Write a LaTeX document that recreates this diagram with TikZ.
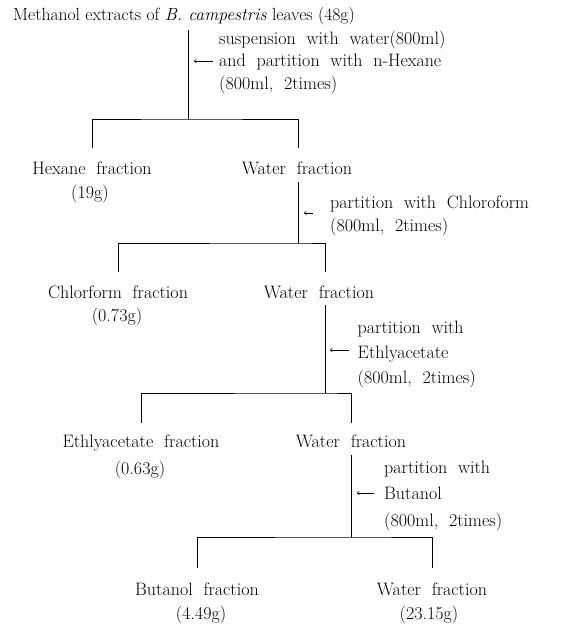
\documentclass[tikz,border=0pt]{standalone}
\usetikzlibrary{positioning, arrows.meta}

\newcommand{\widesp}{\spaceskip=0.6em plus 0.1em minus 0.1em}
\tikzset{
  lbl/.style={inner sep=0pt, font=\fontsize{18}{20}\selectfont\widesp},
  frac/.style={lbl, anchor=base},
  note/.style={inner sep=0pt, anchor=north west, align=left, font=\fontsize{18}{#1}\selectfont\widesp},
  larr/.style={line width=0.5pt, -{To[length=2.5pt, width=4pt]}},
  tree/.style={line width=0.7pt},
}

\begin{document}
\begin{tikzpicture}[x=1pt, y=-1pt]
    \useasboundingbox (0,0) rectangle (569,631);

    % Step 1: methanol extract, hexane partition
    \node[inner sep=0pt, anchor=base west, font=\fontsize{17.6}{20}\selectfont] (meoh) at (13,21) {Methanol extracts of \textit{B.\ campestris} leaves (48g)};
    \coordinate (j1) at (188,119);
    \node[note=22.5pt] (n1) at (219,30.5) {suspension with water(800ml)\\and partition with n-Hexane\\(800ml, 2times)};
    \coordinate (a1) at (213,61); \coordinate (b1) at (194,61);
    \node[frac] (hex) at (92,175) {Hexane fraction};
    \node[frac] (hexw) at (90,198) {(19g)};
    \node[frac] (wat1) at (297,175) {Water fraction};

    % Step 2: chloroform partition
    \coordinate (j2) at (298.5,243);
    \node[note=23pt] (n2) at (330,195.5) {partition with Chloroform\\(800ml, 2times)};
    \coordinate (a2) at (313,213); \coordinate (b2) at (304,213);
    \node[frac] (chl) at (118,298) {Chlorform fraction};
    \node[frac] (chlw) at (117,321) {(0.73g)};
    \node[frac] (wat2) at (319,298) {Water fraction};

    % Step 3: ethylacetate partition
    \coordinate (j3) at (325,393);
    \node[note=25pt] (n3) at (357.5,320.5) {partition with\\Ethlyacetate\\(800ml, 2times)};
    \coordinate (a3) at (349,350); \coordinate (b3) at (330,350);
    \node[frac] (eth) at (141,447) {Ethlyacetate fraction};
    \node[frac] (ethw) at (140,474) {(0.63g)};
    \node[frac] (wat3) at (351,447) {Water fraction};

    % Step 4: butanol partition
    \coordinate (j4) at (351,537);
    \node[note=26.5pt] (n4) at (384,460.5) {partition with\\Butanol\\(800ml, 2times)};
    \coordinate (a4) at (374,493); \coordinate (b4) at (357,493);
    \node[frac] (but) at (197,595) {Butanol fraction};
    \node[frac] (butw) at (201,619) {(4.49g)};
    \node[frac] (wat4) at (432,595) {Water fraction};
    \node[frac] (wat4w) at (429,619) {(23.15g)};

    % arrows
    \foreach \i in {1,...,4}
        \draw[larr] (a\i) -- (b\i);

    % tree lines
    \draw[tree] ([yshift=-9pt]meoh.base -| j1) -- (j1);
    \draw[tree] ([yshift=14.5pt]hex.north) |- (j1) -| ([yshift=14.5pt]wat1.north -| j2);
    \draw[tree] ([yshift=-7pt]wat1.south -| j2) -- (j2);
    \draw[tree] ([yshift=13.5pt]chl.north) |- (j2) -| ([yshift=13.5pt]wat2.north -| j3);
    \draw[tree] ([yshift=-7pt]wat2.south -| j3) -- (j3);
    \draw[tree] ([yshift=11.5pt]eth.north) |- (j3) -| ([yshift=11.5pt]wat3.north -| j4);
    \draw[tree] ([yshift=-8pt]wat3.south -| j4) -- (j4);
    \draw[tree] ([yshift=14.5pt]but.north) |- (j4) -| ([yshift=14.5pt]wat4.north);
\end{tikzpicture}
\end{document}
